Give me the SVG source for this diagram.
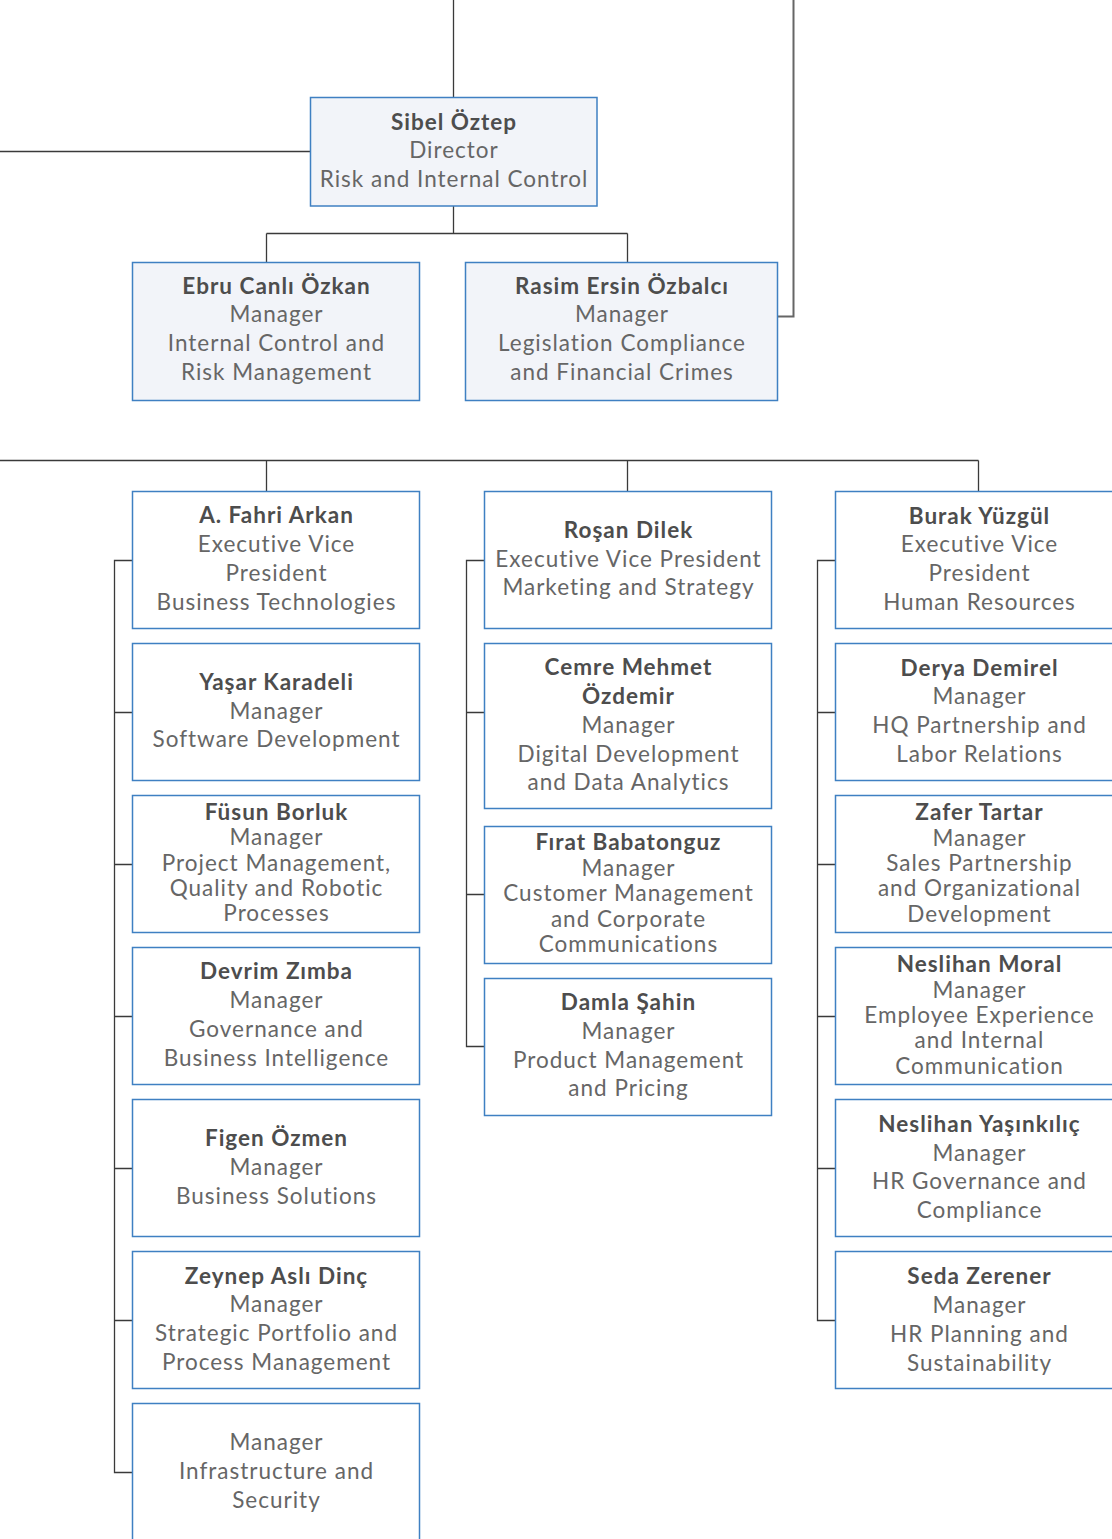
<svg xmlns="http://www.w3.org/2000/svg" width="1112" height="1539" viewBox="0 0 1112 1539">
<style>
.bx{fill:#ffffff;stroke:#3f80c2;stroke-width:1.5}
.bt{fill:#f2f4f9;stroke:#3f80c2;stroke-width:1.5}
.ln{fill:none;stroke:#3a3a3a;stroke-width:1.3}
text{font-family:"Lato","Liberation Sans",sans-serif;font-size:22.5px;letter-spacing:1px;text-anchor:middle;fill:#666666}
.n{font-weight:bold;fill:#4d4d4d}
</style>
<rect width="1112" height="1539" fill="#ffffff"/>
<g id="connectors">
<path class="ln" d="M453.5 0V97.5M0 151.5H310.5M453.5 206V233.5M266.5 233.5H627.5M266.5 233.5V262.5M627.5 233.5V262.5"/>
<path class="ln" d="M777.5 316.5H793.5V0" style="stroke:#666;stroke-width:2"/>
<path class="ln" d="M0 460.5H978.5M266.5 460.5V491.5M627.5 460.5V491.5M978.5 460.5V491.5"/>
<path class="ln" d="M132.5 560.5H114.5V1472.5H132.5M114.5 712.5H132.5M114.5 864.5H132.5M114.5 1016.5H132.5M114.5 1168.5H132.5M114.5 1320.5H132.5"/>
<path class="ln" d="M484.5 560.5H466.5V1046.5H484.5M466.5 712.5H484.5M466.5 894.5H484.5"/>
<path class="ln" d="M835.5 560.5H817.5V1320.5H835.5M817.5 712.5H835.5M817.5 864.5H835.5M817.5 1016.5H835.5M817.5 1168.5H835.5"/>
</g>
<g id="sibel"><rect class="bt" x="310.5" y="97.5" width="286.5" height="108.5"/>
<text x="454" y="130" class="n">Sibel Öztep</text><text x="454" y="158">Director</text><text x="454" y="187">Risk and Internal Control</text></g>
<g id="ebru"><rect class="bt" x="132.5" y="262.5" width="287" height="138"/>
<text x="276.5" y="294" class="n">Ebru Canlı Özkan</text><text x="276.5" y="322">Manager</text><text x="276.5" y="351">Internal Control and</text><text x="276.5" y="380">Risk Management</text></g>
<g id="rasim"><rect class="bt" x="465.5" y="262.5" width="312" height="138"/>
<text x="622" y="294" class="n">Rasim Ersin Özbalcı</text><text x="622" y="322">Manager</text><text x="622" y="351">Legislation Compliance</text><text x="622" y="380">and Financial Crimes</text></g>

<g id="fahri"><rect class="bx" x="132.5" y="491.5" width="287" height="137"/>
<text x="276.5" y="523" class="n">A. Fahri Arkan</text><text x="276.5" y="552">Executive Vice</text><text x="276.5" y="581">President</text><text x="276.5" y="610">Business Technologies</text></g>
<g id="yasar"><rect class="bx" x="132.5" y="643.5" width="287" height="137"/>
<text x="276.5" y="690" class="n">Yaşar Karadeli</text><text x="276.5" y="719">Manager</text><text x="276.5" y="747">Software Development</text></g>
<g id="fusun"><rect class="bx" x="132.5" y="795.5" width="287" height="137"/>
<text x="276.5" y="820" class="n">Füsun Borluk</text><text x="276.5" y="845">Manager</text><text x="276.5" y="871">Project Management,</text><text x="276.5" y="896">Quality and Robotic</text><text x="276.5" y="921">Processes</text></g>
<g id="devrim"><rect class="bx" x="132.5" y="947.5" width="287" height="137"/>
<text x="276.5" y="979" class="n">Devrim Zımba</text><text x="276.5" y="1008">Manager</text><text x="276.5" y="1037">Governance and</text><text x="276.5" y="1066">Business Intelligence</text></g>
<g id="figen"><rect class="bx" x="132.5" y="1099.5" width="287" height="137"/>
<text x="276.5" y="1146" class="n">Figen Özmen</text><text x="276.5" y="1175">Manager</text><text x="276.5" y="1204">Business Solutions</text></g>
<g id="zeynep"><rect class="bx" x="132.5" y="1251.5" width="287" height="137"/>
<text x="276.5" y="1284" class="n">Zeynep Aslı Dinç</text><text x="276.5" y="1312">Manager</text><text x="276.5" y="1341">Strategic Portfolio and</text><text x="276.5" y="1370">Process Management</text></g>
<g id="infra"><rect class="bx" x="132.5" y="1403.5" width="287" height="145"/>
<text x="276.5" y="1450">Manager</text><text x="276.5" y="1479">Infrastructure and</text><text x="276.5" y="1508">Security</text></g>

<g id="rosan"><rect class="bx" x="484.5" y="491.5" width="287" height="137"/>
<text x="628.5" y="538" class="n">Roşan Dilek</text><text x="628.5" y="567">Executive Vice President</text><text x="628.5" y="595">Marketing and Strategy</text></g>
<g id="cemre"><rect class="bx" x="484.5" y="643.5" width="287" height="165"/>
<text x="628.5" y="675" class="n">Cemre Mehmet</text><text x="628.5" y="704" class="n">Özdemir</text><text x="628.5" y="733">Manager</text><text x="628.5" y="762">Digital Development</text><text x="628.5" y="790">and Data Analytics</text></g>
<g id="firat"><rect class="bx" x="484.5" y="826.5" width="287" height="137"/>
<text x="628.5" y="850" class="n">Fırat Babatonguz</text><text x="628.5" y="876">Manager</text><text x="628.5" y="901">Customer Management</text><text x="628.5" y="927">and Corporate</text><text x="628.5" y="952">Communications</text></g>
<g id="damla"><rect class="bx" x="484.5" y="978.5" width="287" height="137"/>
<text x="628.5" y="1010" class="n">Damla Şahin</text><text x="628.5" y="1039">Manager</text><text x="628.5" y="1068">Product Management</text><text x="628.5" y="1096">and Pricing</text></g>

<g id="burak"><rect class="bx" x="835.5" y="491.5" width="287" height="137"/>
<text x="979.5" y="524" class="n">Burak Yüzgül</text><text x="979.5" y="552">Executive Vice</text><text x="979.5" y="581">President</text><text x="979.5" y="610">Human Resources</text></g>
<g id="derya"><rect class="bx" x="835.5" y="643.5" width="287" height="137"/>
<text x="979.5" y="676" class="n">Derya Demirel</text><text x="979.5" y="704">Manager</text><text x="979.5" y="733">HQ Partnership and</text><text x="979.5" y="762">Labor Relations</text></g>
<g id="zafer"><rect class="bx" x="835.5" y="795.5" width="287" height="137"/>
<text x="979.5" y="820" class="n">Zafer Tartar</text><text x="979.5" y="846">Manager</text><text x="979.5" y="871">Sales Partnership</text><text x="979.5" y="896">and Organizational</text><text x="979.5" y="922">Development</text></g>
<g id="neslihanm"><rect class="bx" x="835.5" y="947.5" width="287" height="137"/>
<text x="979.5" y="972" class="n">Neslihan Moral</text><text x="979.5" y="998">Manager</text><text x="979.5" y="1023">Employee Experience</text><text x="979.5" y="1048">and Internal</text><text x="979.5" y="1074">Communication</text></g>
<g id="neslihany"><rect class="bx" x="835.5" y="1099.5" width="287" height="137"/>
<text x="979.5" y="1132" class="n">Neslihan Yaşınkılıç</text><text x="979.5" y="1161">Manager</text><text x="979.5" y="1189">HR Governance and</text><text x="979.5" y="1218">Compliance</text></g>
<g id="seda"><rect class="bx" x="835.5" y="1251.5" width="287" height="137"/>
<text x="979.5" y="1284" class="n">Seda Zerener</text><text x="979.5" y="1313">Manager</text><text x="979.5" y="1342">HR Planning and</text><text x="979.5" y="1371">Sustainability</text></g>
</svg>
